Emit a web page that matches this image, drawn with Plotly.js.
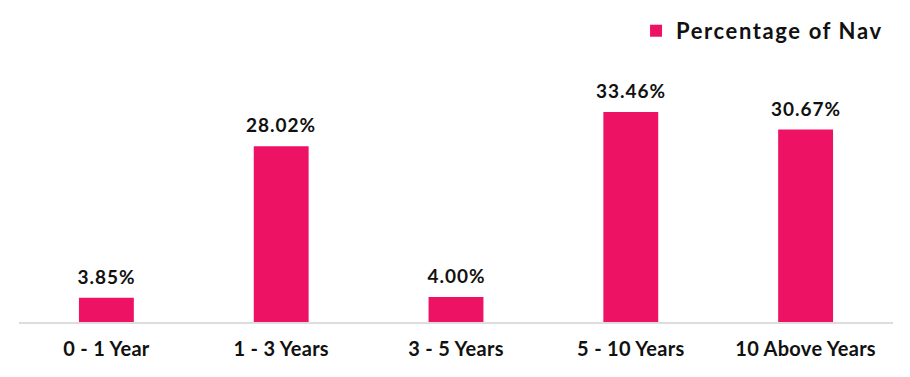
<!DOCTYPE html>
<html><head><meta charset="utf-8">
<script src="https://cdn.plot.ly/plotly-3.0.1.min.js"></script>
<style>html,body{margin:0;padding:0;background:#fff}#c{width:910px;height:377px}
#c .legendtext{letter-spacing:1.6px}
#c .legend *{clip-path:none !important}
#c .xtick text{letter-spacing:0.3px}
#c .annotation-text{letter-spacing:1px}
</style>
</head><body><div id="c"></div>
<script>
const categories = ['0 - 1 Year', '1 - 3 Years', '3 - 5 Years', '5 - 10 Years', '10 Above Years'];
const values = [3.85, 28.02, 4.00, 33.46, 30.67];
const seriesName = 'Percentage of Nav';

const labels = values.map((v, i) => ({
  x: categories[i], y: v, xref: 'x', yref: 'y',
  text: v.toFixed(2) + '%', showarrow: false,
  yanchor: 'bottom', yshift: 8,
  font: {family: 'Lato', size: 19, color: '#111', weight: 'bold'}
}));

Plotly.newPlot('c', [{
  type: 'bar', x: categories, y: values, name: seriesName,
  marker: {color: '#EE1264'},
  showlegend: true
}], {
  width: 910, height: 377,
  margin: {l: 19, r: 17, t: 71, b: 55},
  paper_bgcolor: '#fff', plot_bgcolor: '#fff',
  bargap: 0.686,
  font: {family: 'Lato', color: '#111'},
  annotations: labels,
  xaxis: {tickfont: {family: 'Lato', size: 20, color: '#111', weight: 'bold'},
          showline: true, linecolor: '#DDDDDD', linewidth: 2, ticks: '', fixedrange: true,
          ticklabelstandoff: 8},
  yaxis: {range: [0, 40], visible: false, fixedrange: true},
  showlegend: true,
  legend: {x: 0.9462, xref: 'container', xanchor: 'right', y: 0.918, yanchor: 'middle', yref: 'container', orientation: 'h',
           bgcolor: 'rgba(0,0,0,0)',
           font: {family: 'Lato', size: 22, color: '#111', weight: 'bold'}, itemwidth: 30}
}, {displayModeBar: false, staticPlot: true});
</script></body></html>
